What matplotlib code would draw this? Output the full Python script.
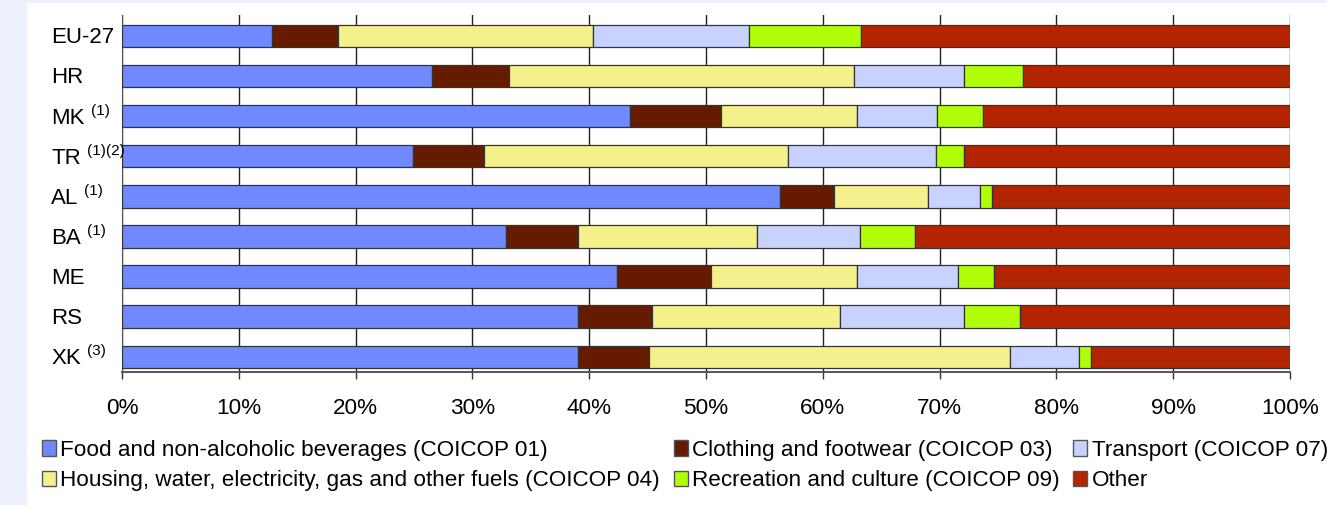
import numpy as np
import matplotlib
matplotlib.use("Agg")
import matplotlib.pyplot as plt
from matplotlib.patches import Rectangle, Patch
from matplotlib.transforms import blended_transform_factory, ScaledTranslation

plt.rcParams['font.family'] = ['Liberation Sans', 'DejaVu Sans']

countries = ["EU-27", "HR", "MK", "TR", "AL", "BA", "ME", "RS", "XK"]
notes = ["", "", "(1)", "(1)(2)", "(1)", "(1)", "", "", "(3)"]

# shares of household consumption expenditure, %
food = [12.8, 26.5, 43.5, 24.9, 56.3, 32.9, 42.4, 39.0, 39.0]
clothing = [5.7, 6.6, 7.8, 6.1, 4.7, 6.1, 8.0, 6.4, 6.1]
housing = [21.8, 29.6, 11.6, 26.0, 8.0, 15.4, 12.5, 16.1, 30.9]
transport = [13.4, 9.4, 6.9, 12.7, 4.5, 8.8, 8.7, 10.6, 5.9]
recreation = [9.6, 5.0, 3.9, 2.4, 1.0, 4.7, 3.1, 4.8, 1.1]
other = [36.7, 22.9, 26.3, 27.9, 25.5, 32.1, 25.3, 23.1, 17.0]

series = [food, clothing, housing, transport, recreation, other]
names = [
    "Food and non-alcoholic beverages (COICOP 01)",
    "Clothing and footwear (COICOP 03)",
    "Housing, water, electricity, gas and other fuels (COICOP 04)",
    "Transport (COICOP 07)",
    "Recreation and culture (COICOP 09)",
    "Other",
]
colors = ["#7189FF", "#661B00", "#F4F08C", "#C8D2FF", "#B0FF08", "#B32500"]

W, H = 1327, 505
fig = plt.figure(figsize=(W / 100, H / 100), dpi=100)
fig.patch.set_facecolor("#EEF1FB")
fig.add_artist(Rectangle((27 / W, 0), 1, 1 - 3 / H, transform=fig.transFigure,
                         facecolor="white", edgecolor="none", zorder=-10))

ax = fig.add_axes([122 / W, 1 - 372 / H, (1290 - 122) / W, (372 - 15) / H])
ax.patch.set_alpha(0)

y = np.arange(len(countries))
left = np.zeros(len(countries))
for vals, c in zip(series, colors):
    ax.barh(y, vals, left=left, height=0.56, color=c, edgecolor="#333333",
            linewidth=0.9, zorder=3)
    left += np.array(vals)

ax.set_xlim(0, 100)
ax.set_ylim(8.38, -0.52)
ax.set_xticks(np.arange(0, 101, 10))
ax.set_xticklabels([f"{v}%" for v in range(0, 101, 10)], fontsize=16.2)
ax.tick_params(axis="x", length=5, width=1, color="#333333", pad=14)
ax.set_yticks([])
ax.xaxis.grid(True, color="#222222", linewidth=1)
ax.set_axisbelow(True)
for s in ("top", "right"):
    ax.spines[s].set_visible(False)
ax.spines["left"].set_color("#555555")
ax.spines["bottom"].set_color("#555555")
ax.spines["bottom"].set_linewidth(1.4)

# country labels, left aligned, with footnote markers
trans = blended_transform_factory(fig.transFigure, ax.transData)
trans = trans + ScaledTranslation(0, -2 / 100, fig.dpi_scale_trans)
for i, (name, note) in enumerate(zip(countries, notes)):
    t = ax.text(51 / W, i, name, transform=trans, ha="left", va="center",
                fontsize=16)
    if note:
        ax.annotate(note, xy=(1, 1), xycoords=t, xytext=(6, 4),
                    textcoords="offset pixels", ha="left", va="top",
                    fontsize=11)

order = [0, 2, 1, 4, 3, 5]
handles = [Patch(facecolor=colors[k], edgecolor="#555555", linewidth=1) for k in order]
fig.legend(handles, [names[k] for k in order], loc="upper left",
           bbox_to_anchor=(42 / W, 1 - 440 / H), bbox_transform=fig.transFigure,
           ncol=3, frameon=False, fontsize=16.2, handlelength=0.62, handleheight=0.7,
           handletextpad=0.2, columnspacing=0.6, labelspacing=0.42,
           borderpad=0, borderaxespad=0)

fig.savefig("out.png", dpi=100, facecolor=fig.get_facecolor())
